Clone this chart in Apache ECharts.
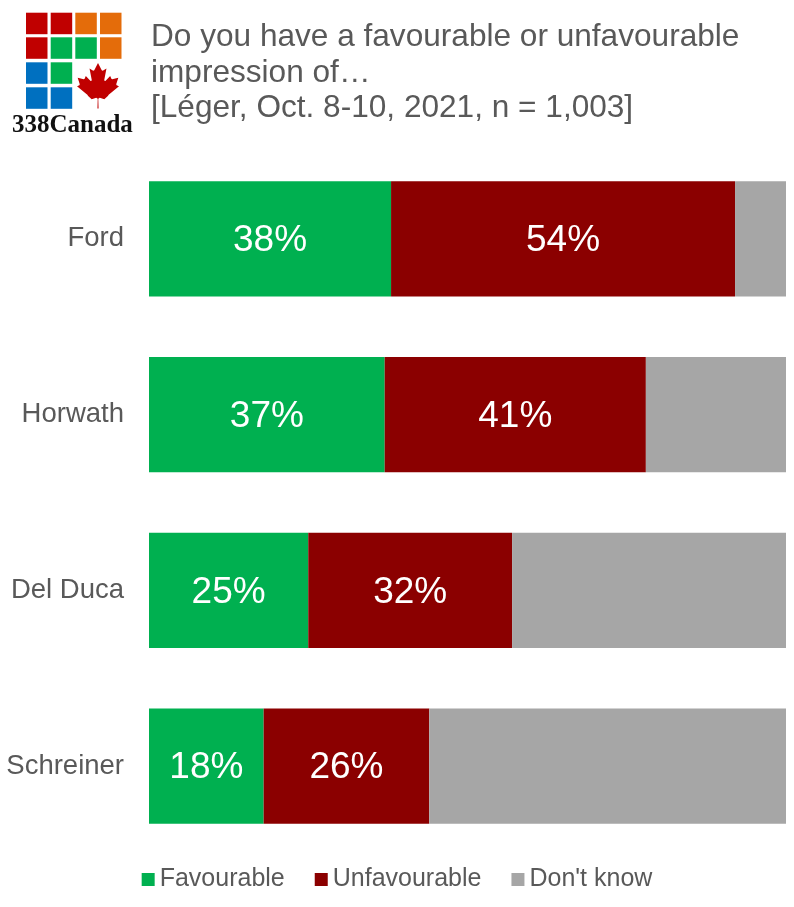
<!DOCTYPE html>
<html>
<head>
<meta charset="utf-8">
<script src="https://cdn.jsdelivr.net/npm/echarts@6/dist/echarts.min.js"></script>
<style>
html,body{margin:0;padding:0;background:#fff;}
#chart{width:794px;height:907px;}
</style>
</head>
<body>
<div id="chart"></div>
<script>
var categories = ['Ford', 'Horwath', 'Del Duca', 'Schreiner'];
var favourable = [38, 37, 25, 18];
var unfavourable = [54, 41, 32, 26];
var dontKnow = [8, 22, 43, 56];
var seriesNames = ['Favourable', 'Unfavourable', "Don't know"];
var titleText = 'Do you have a favourable or unfavourable\nimpression of\u2026\n[L\u00e9ger, Oct. 8-10, 2021, n = 1,003]';

var FONT = '"Liberation Sans", Arial, sans-serif';
var GREEN = '#00B050', DRED = '#8B0000', GRAY = '#A6A6A6';

var chart = echarts.init(document.getElementById('chart'), null, {renderer: 'canvas'});

// logo squares
var sq = 21.5, xs = [26, 50.7, 75.3, 100], ys = [12.7, 37.3, 62.3, 87.3];
var R = '#C00000', O = '#E46C0A', G = '#00B050', B = '#0070C0';
var logoGrid = [[R, R, O, O], [R, G, G, O], [B, G, null, null], [B, B, null, null]];
var graphics = [];
logoGrid.forEach(function (row, r) {
  row.forEach(function (c, ci) {
    if (c) graphics.push({type: 'rect', left: xs[ci], top: ys[r], shape: {width: sq, height: sq}, style: {fill: c}});
  });
});
// maple leaf outline (flag geometry, 9600x4800 units)
var leafPts = [[4890,4430],[4845,3567],[4956,3469],[5815,3620],[5699,3300],[5719,3227],[6660,2465],[6448,2366],[6414,2287],[6600,1715],[6058,1830],[5985,1792],[5880,1545],[5457,1999],[5346,1942],[5550,890],[5223,1079],[5132,1052],[4800,400],[4468,1052],[4377,1079],[4050,890],[4254,1942],[4143,1999],[3720,1545],[3615,1792],[3542,1830],[3000,1715],[3186,2287],[3152,2366],[2940,2465],[3881,3227],[3901,3300],[3785,3620],[4644,3469],[4755,3567],[4710,4430]];
var ls = 42 / 3720;
graphics.push({
  type: 'polygon',
  shape: {points: leafPts.map(function (p) {
    var x = p[0], y = p[1];
    if (y > 3500) { x = 4800 + (x - 4800) * 0.55; }
    return [77 + (x - 2940) * ls, 63 + (y - 400) * ls];
  })},
  style: {fill: '#C00000'}
});
graphics.push({
  type: 'text', left: 12, top: 113,
  style: {text: '338Canada', font: 'bold 25px "Liberation Serif", "Times New Roman", serif', fill: '#111'}
});

function labelCfg() {
  return {show: true, position: 'inside', color: '#fff', fontSize: 37, fontFamily: FONT, formatter: '{c}%', offset: [0, 2]};
}

chart.setOption({
  animation: false,
  textStyle: {fontFamily: FONT},
  title: {
    text: titleText, left: 146, top: 15,
    textStyle: {fontSize: 31.6, fontWeight: 'normal', color: '#595959', lineHeight: 35.5, fontFamily: FONT}
  },
  graphic: graphics,
  legend: {
    bottom: 10, left: 'center', itemWidth: 13, itemHeight: 13, itemGap: 30, icon: 'rect',
    textStyle: {fontSize: 25, color: '#595959', fontFamily: FONT},
    data: seriesNames
  },
  grid: {left: 149, right: 8, top: 151, bottom: 53, containLabel: false},
  xAxis: {type: 'value', min: 0, max: 100, show: false},
  yAxis: {
    type: 'category', data: categories, inverse: true,
    axisLine: {show: false}, axisTick: {show: false},
    axisLabel: {fontSize: 27.5, color: '#595959', margin: 25, fontFamily: FONT}
  },
  series: [
    {name: seriesNames[0], type: 'bar', stack: 's', data: favourable, barCategoryGap: '34.5%', itemStyle: {color: GREEN}, label: labelCfg()},
    {name: seriesNames[1], type: 'bar', stack: 's', data: unfavourable, itemStyle: {color: DRED}, label: labelCfg()},
    {name: seriesNames[2], type: 'bar', stack: 's', data: dontKnow, itemStyle: {color: GRAY}, label: {show: false}}
  ]
});
</script>
</body>
</html>
